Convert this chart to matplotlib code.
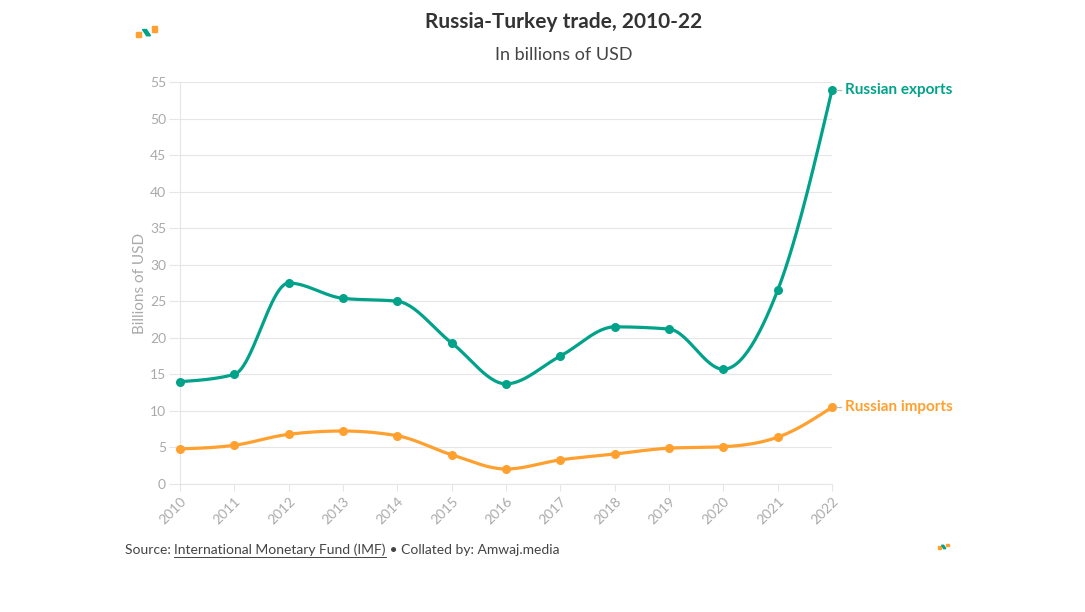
import numpy as np
import matplotlib
matplotlib.use("Agg")
import matplotlib.pyplot as plt
from matplotlib.patches import Rectangle, Polygon
from matplotlib.transforms import offset_copy

plt.rcParams['font.family'] = ['Lato', 'DejaVu Sans']

years = [2010, 2011, 2012, 2013, 2014, 2015, 2016, 2017, 2018, 2019, 2020, 2021, 2022]
exports = [14.0, 15.0, 27.5, 25.4, 25.0, 19.3, 13.7, 17.5, 21.5, 21.2, 15.7, 26.5, 53.9]
imports = [4.8, 5.3, 6.8, 7.25, 6.6, 4.0, 2.05, 3.3, 4.1, 4.9, 5.1, 6.4, 10.5]

teal = '#00a28a'
orange = '#ffa02f'
grey = '#aaaaaa'


def monotone(x, y, n=30):
    # monotone cubic curve through the points (like d3 curveMonotoneX)
    x = np.asarray(x, float)
    y = np.asarray(y, float)
    h = np.diff(x)
    s = np.diff(y) / h
    m = np.zeros_like(y)
    for i in range(1, len(y) - 1):
        if s[i - 1] * s[i] <= 0:
            m[i] = 0
        else:
            p = (s[i - 1] * h[i] + s[i] * h[i - 1]) / (h[i - 1] + h[i])
            m[i] = (np.sign(s[i - 1]) + np.sign(s[i])) * min(abs(s[i - 1]), abs(s[i]), 0.5 * abs(p))
    m[0] = (3 * s[0] - m[1]) / 2 if len(y) > 2 else s[0]
    m[-1] = (3 * s[-1] - m[-2]) / 2
    xs, ys = [], []
    for i in range(len(x) - 1):
        t = np.linspace(0, 1, n)
        h00 = 2 * t**3 - 3 * t**2 + 1
        h10 = t**3 - 2 * t**2 + t
        h01 = -2 * t**3 + 3 * t**2
        h11 = t**3 - t**2
        xs.append(x[i] + t * h[i])
        ys.append(h00 * y[i] + h10 * h[i] * m[i] + h01 * y[i + 1] + h11 * h[i] * m[i + 1])
    return np.concatenate(xs), np.concatenate(ys)


fig = plt.figure(figsize=(10.85, 6.12), dpi=100)
ax = fig.add_axes([180 / 1085, 1 - 484 / 612, (832 - 180) / 1085, (484 - 82) / 612])

for vals, col in [(exports, teal), (imports, orange)]:
    cx, cy = monotone(years, vals)
    ax.plot(cx, cy, color=col, lw=2.3, zorder=3, clip_on=False)
    ax.scatter(years, vals, s=30, color=col, zorder=4, clip_on=False)

ax.set_xlim(2010, 2022)
ax.set_ylim(0, 55)
ax.set_yticks(range(0, 56, 5))
ax.set_xticks(years)
ax.set_xticklabels([str(y) for y in years], rotation=45, ha='right', rotation_mode='anchor')
ax.grid(axis='y', color='#e6e6e6', lw=0.8)
ax.set_axisbelow(True)
for sp in ['top', 'right']:
    ax.spines[sp].set_visible(False)
ax.spines['left'].set_color('#e6e6e6')
ax.spines['bottom'].set_color('#e6e6e6')
ax.tick_params(axis='y', length=8, color='#e6e6e6', labelcolor=grey, labelsize=10, pad=2)
ax.tick_params(axis='x', length=5, color='#e6e6e6', labelcolor=grey, labelsize=10, pad=3)
ax.set_ylabel('Billions of USD', color=grey, fontsize=11, labelpad=2)

# end labels with a short grey dash
for vals, col, name in [(exports, teal, 'Russian exports'), (imports, orange, 'Russian imports')]:
    x0, y0 = years[-1], vals[-1]
    ax.plot([x0, x0], [y0, y0], alpha=0)
    d1 = offset_copy(ax.transData, fig=fig, x=4, y=0, units='dots')
    d2 = offset_copy(ax.transData, fig=fig, x=9, y=0, units='dots')
    p1 = d1.transform((x0, y0))
    p2 = d2.transform((x0, y0))
    fig.add_artist(plt.Line2D([p1[0] / 1085, p2[0] / 1085], [p1[1] / 612, p2[1] / 612],
                              color='#bbbbbb', lw=0.9))
    ax.annotate(name, xy=(x0, y0), xytext=(13, 0), textcoords='offset pixels',
                color=col, fontsize=11, fontweight='bold', va='center', ha='left')

fig.text(564 / 1085, 1 - 22 / 612, 'Russia-Turkey trade, 2010-22', ha='center', va='center',
         fontsize=15, fontweight='bold', color='#333333')
fig.text(564 / 1085, 1 - 55 / 612, 'In billions of USD', ha='center', va='center',
         fontsize=13, color='#444444')

# source line with underlined link
t1 = fig.text(125 / 1085, 1 - 550 / 612, 'Source: ', ha='left', va='center', fontsize=10, color='#444444')
fig.canvas.draw()
r = fig.canvas.get_renderer()
bb = t1.get_window_extent(r)
t2 = fig.text(bb.x1 / 1085, 1 - 550 / 612, 'International Monetary Fund (IMF)', ha='left', va='center',
              fontsize=10, color='#444444')
bb2 = t2.get_window_extent(r)
fig.add_artist(plt.Line2D([bb2.x0 / 1085, bb2.x1 / 1085], [(bb2.y0 - 1) / 612] * 2, color='#444444', lw=0.7))
fig.text(bb2.x1 / 1085, 1 - 550 / 612, ' \u2022 Collated by: Amwaj.media', ha='left', va='center',
         fontsize=10, color='#444444')


def logo(x0, y0, s):
    # small brand mark: two orange squares and a teal stroke
    W, H = 1085, 612
    fig.add_artist(Rectangle((x0 / W, (H - y0 - 3 * s) / H), 2 * s / W, 2 * s / H, color=orange))
    fig.add_artist(Rectangle(((x0 + 6 * s) / W, (H - y0 - s) / H), 2 * s / W, 2 * s / H, color=orange))
    pts = [(x0 + 2.5 * s, y0 + 0.2 * s), (x0 + 4 * s, y0 + 0.2 * s), (x0 + 5.6 * s, y0 + 2.6 * s),
           (x0 + 4.1 * s, y0 + 2.6 * s)]
    fig.add_artist(Polygon([(px / W, (H - py) / H) for px, py in pts], closed=True, color=teal))


logo(136, 29, 2.6)
logo(938, 545, 1.4)

fig.savefig('out.png', dpi=100, facecolor='white')
